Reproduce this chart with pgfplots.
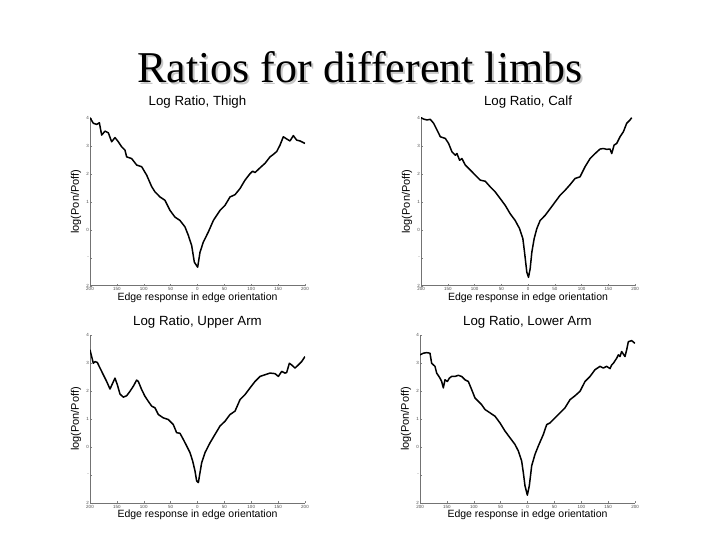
\documentclass[border=0pt]{standalone}
\usepackage{pgfplots}
\pgfplotsset{compat=1.18}
\usepackage{fontspec}
\setmainfont{Liberation Sans}
\newfontfamily\timesfont{Liberation Serif}
\pgfplotsset{limb/.style={
  scale only axis, width=215pt, height=168pt,
  xmin=-200, xmax=200, ymin=-2, ymax=4,
  axis x line*=bottom, axis y line*=left,
  axis line style={black!55, line width=0.5pt},
  xtick={-200,-150,-100,-50,0,50,100,150,200},
  xticklabels={200,150,100,50,0,50,100,150,200},
  ytick={-2,-1,0,1,2,3,4},
  yticklabels={2,-,0,1,2,3,4},
  tick style={black!50, line width=0.3pt},
  major tick length=2pt, tick align=inside,
  ticklabel style={font=\fontsize{4.5}{5}\selectfont, text=black!70, inner sep=0.5pt},
  xticklabel style={yshift=-1.2pt},
  yticklabel style={xshift=-0.5pt},
  title style={font=\fontsize{13.3}{14}\selectfont, at={(0.5,1)}, anchor=south, inner sep=0pt},
  xlabel={Edge response in edge orientation},
  ylabel={log(Pon/Poff)},
  xlabel style={font=\fontsize{10.5}{12}\selectfont, at={(axis description cs:0.5,0)}, anchor=north, inner sep=0pt},
  ylabel style={font=\fontsize{11}{12}\selectfont, at={(axis description cs:-0.065,0.5)}, anchor=center, inner sep=0pt},
}, curve/.style={black, line width=1.5pt, line join=round, mark=none}}
\begin{document}
\begin{tikzpicture}
\path[fill=white] (0,0) rectangle (720pt,540pt);
\node[anchor=base, text=black!22, font=\timesfont\fontsize{44}{48}\selectfont, inner sep=0pt] at (361.8pt,455.5pt) {Ratios for different limbs};
\node[anchor=base, text=black, font=\timesfont\fontsize{44}{48}\selectfont, inner sep=0pt] at (360pt,457.3pt) {Ratios for different limbs};

\begin{axis}[limb, at={(90pt,422.3pt)}, anchor=north west,
  title={Log Ratio, Thigh}, title style={yshift=3pt}, xlabel style={yshift=-6.5pt}]
\addplot[curve] coordinates {(-200,4.0) (-193.8,3.8) (-187.6,3.76) (-182.6,3.82) (-178.3,3.38) (-172.1,3.52) (-165.9,3.46) (-159.7,3.14) (-153.5,3.29) (-147.3,3.14) (-141.1,2.96) (-134.9,2.84) (-131.8,2.6) (-122.5,2.54) (-113.2,2.31) (-103.9,2.25) (-94.6,1.95) (-85.3,1.54) (-79.1,1.35) (-69.8,1.17) (-60.5,1.05) (-51.2,0.69) (-41.9,0.45) (-32.6,0.33) (-23.3,0.1) (-17.1,-0.2) (-10.9,-0.56) (-5.9,-1.16) (0.3,-1.34) (4.7,-0.8) (10.9,-0.44) (20.2,-0.08) (29.5,0.33) (41.9,0.69) (51.2,0.87) (60.5,1.17) (69.8,1.25) (79.1,1.47) (88.4,1.77) (97.7,2.0) (102.6,2.09) (107,2.04) (116.3,2.21) (125.6,2.37) (134.9,2.6) (141.1,2.69) (147.3,2.79) (153.5,3.02) (159.7,3.32) (165.9,3.24) (172.1,3.17) (178.3,3.36) (184.5,3.2) (190.7,3.17) (200,3.08)};
\end{axis}

\begin{axis}[limb, at={(421pt,422.3pt)}, anchor=north west, width=214pt,
  title={Log Ratio, Calf}, title style={yshift=3pt}, xlabel style={yshift=-6.5pt}]
\addplot[curve] coordinates {(-200,4.0) (-195,3.95) (-188.8,3.92) (-182.6,3.94) (-176.4,3.8) (-170.1,3.56) (-163.9,3.32) (-154.6,3.26) (-148.4,3.08) (-142.1,2.78) (-135.9,2.66) (-132.8,2.72) (-127.8,2.48) (-123.5,2.54) (-117.3,2.31) (-107.9,2.13) (-98.6,1.95) (-89.3,1.77) (-79.9,1.73) (-70.6,1.53) (-61.3,1.35) (-51.9,1.11) (-42.6,0.87) (-33.3,0.57) (-24,0.33) (-15.8,0.04) (-9.6,-0.32) (-6.5,-0.8) (-2.2,-1.52) (0.9,-1.7) (4,-1.4) (7.2,-0.8) (11.5,-0.32) (16.5,0.04) (22.7,0.33) (32,0.51) (41.4,0.75) (50.7,0.99) (60,1.23) (69.4,1.41) (78.7,1.61) (88,1.83) (97.3,1.89) (106.7,2.25) (116,2.54) (125.4,2.72) (134.7,2.88) (140.9,2.9) (147.1,2.87) (153.3,2.88) (156.5,2.72) (160.9,3.02) (165.8,3.08) (172.1,3.32) (178.3,3.5) (184.5,3.8) (190.7,3.92) (193.8,4.0)};
\end{axis}

\begin{axis}[limb, at={(90pt,205pt)}, anchor=north west,
  title={Log Ratio, Upper Arm}, title style={yshift=0.5pt}, xlabel style={yshift=-7pt}]
\addplot[curve] coordinates {(-200,3.47) (-196.9,3.23) (-193.8,2.99) (-190.7,3.05) (-186.4,3.02) (-181.4,2.82) (-175.2,2.58) (-169,2.34) (-162.8,2.07) (-157.8,2.28) (-153.5,2.46) (-149.1,2.22) (-144.2,1.89) (-138,1.78) (-131.8,1.83) (-125.6,1.99) (-119.4,2.17) (-113.2,2.39) (-110.1,2.34) (-103.9,2.05) (-97.7,1.81) (-91.5,1.63) (-85.3,1.46) (-79.1,1.4) (-72.9,1.16) (-63.6,1.04) (-54.3,0.98) (-45,0.8) (-38.8,0.51) (-32.6,0.49) (-26.4,0.27) (-20.2,0.04) (-14,-0.2) (-9,-0.5) (-4.7,-0.85) (-1.6,-1.21) (1.6,-1.27) (4.7,-0.91) (7.8,-0.56) (14,-0.2) (23.3,0.15) (32.6,0.45) (41.9,0.75) (51.2,0.92) (60.5,1.16) (69.8,1.28) (79.1,1.69) (88.4,1.87) (97.7,2.11) (107,2.34) (116.3,2.52) (125.6,2.58) (134.9,2.64) (144.2,2.62) (150.4,2.52) (156.6,2.7) (162.8,2.64) (165.9,2.66) (170.9,2.99) (175.2,2.93) (181.4,2.82) (187.6,2.93) (193.8,3.05) (200,3.23)};
\end{axis}

\begin{axis}[limb, at={(420pt,205pt)}, anchor=north west,
  title={Log Ratio, Lower Arm}, title style={yshift=0.5pt}, xlabel style={yshift=-7pt}]
\addplot[curve] coordinates {(-200,3.29) (-193.8,3.35) (-187.6,3.37) (-181.4,3.35) (-178.3,2.99) (-172.1,2.88) (-169,2.64) (-162.8,2.46) (-159.7,2.34) (-156.6,2.11) (-153.5,2.4) (-149.1,2.34) (-145.4,2.46) (-141.1,2.52) (-134.9,2.52) (-128.7,2.56) (-122.5,2.52) (-116.3,2.4) (-110.1,2.34) (-103.9,2.05) (-97.7,1.75) (-91.5,1.63) (-85.3,1.51) (-79.1,1.34) (-69.8,1.22) (-60.5,1.1) (-51.2,0.86) (-41.9,0.57) (-32.6,0.33) (-23.3,0.09) (-17.1,-0.14) (-10.9,-0.5) (-7.8,-0.91) (-4.7,-1.38) (-0.3,-1.72) (3.4,-1.38) (7.8,-0.67) (14,-0.26) (20.2,0.04) (29.5,0.45) (35.7,0.8) (41.9,0.86) (51.2,1.04) (60.5,1.22) (69.8,1.4) (79.1,1.69) (88.4,1.83) (97.7,1.99) (107,2.34) (116.3,2.52) (125.6,2.76) (134.9,2.88) (141.1,2.82) (147.3,2.88) (153.5,2.8) (156.6,2.93) (159.7,2.99) (165.9,3.17) (169,3.29) (172.1,3.23) (175.2,3.41) (181.4,3.23) (184.5,3.47) (187.6,3.76) (193.8,3.8) (200,3.7)};
\end{axis}
\end{tikzpicture}
\end{document}
